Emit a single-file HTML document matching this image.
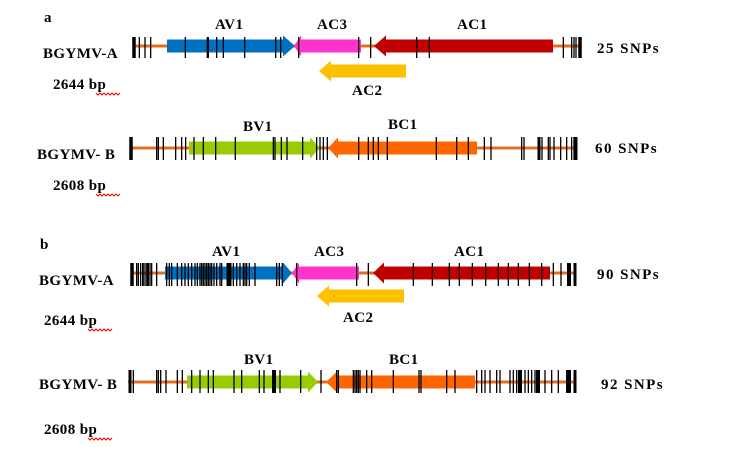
<!DOCTYPE html>
<html><head><meta charset="utf-8"><style>
body{margin:0;background:#fff;width:751px;height:446px;overflow:hidden}
text{font-family:"Liberation Serif",serif;font-weight:bold;font-size:15px;letter-spacing:0.4px;fill:#000}
</style></head><body>
<svg id="s" width="751" height="446" xmlns="http://www.w3.org/2000/svg">
<text x="44" y="22">a</text>
<text x="43" y="58">BGYMV-A</text>
<text x="53" y="89">2644 bp</text>
<text x="37" y="159">BGYMV- B</text>
<text x="53" y="190">2608 bp</text>
<text x="40" y="249">b</text>
<text x="39" y="285">BGYMV-A</text>
<text x="44" y="325">2644 bp</text>
<text x="39" y="389">BGYMV- B</text>
<text x="44" y="434">2608 bp</text>
<text x="597" y="53" textLength="62">25 SNPs</text>
<text x="595" y="153" textLength="62">60 SNPs</text>
<text x="597" y="279" textLength="62">90 SNPs</text>
<text x="601" y="389" textLength="62">92 SNPs</text>
<text x="215" y="29">AV1</text>
<text x="317" y="29">AC3</text>
<text x="457" y="29">AC1</text>
<text x="352" y="95">AC2</text>
<text x="243" y="131">BV1</text>
<text x="388" y="129">BC1</text>
<text x="212" y="256">AV1</text>
<text x="314" y="256">AC3</text>
<text x="454" y="256">AC1</text>
<text x="343" y="322">AC2</text>
<text x="244" y="364">BV1</text>
<text x="389" y="364">BC1</text>
<g id="g"></g>
</svg>
<script>
var g=document.getElementById('g'),h='';
function sq(x,y){var d='M'+x+' '+y;for(var i=0;i<6;i++){d+=' l2 2 l2 -2';}h+='<path d="'+d+'" stroke="#e00" stroke-width="1" fill="none"/>';}
function line(x1,x2,y){h+='<rect x="'+x1+'" y="'+(y-1.5)+'" width="'+(x2-x1)+'" height="3" fill="#e07020"/>';}
function fwd(x1,x2,tip,y,c){h+='<polygon points="'+x1+','+(y-6.5)+' '+x2+','+(y-6.5)+' '+x2+','+(y-10.5)+' '+tip+','+y+' '+x2+','+(y+10.5)+' '+x2+','+(y+6.5)+' '+x1+','+(y+6.5)+'" fill="'+c+'"/>';}
function rev(tip,x1,x2,y,c){h+='<polygon points="'+x2+','+(y-6.5)+' '+x1+','+(y-6.5)+' '+x1+','+(y-10.5)+' '+tip+','+y+' '+x1+','+(y+10.5)+' '+x1+','+(y+6.5)+' '+x2+','+(y+6.5)+'" fill="'+c+'"/>';}
function ticks(arr,y1,y2){arr.forEach(function(z){var w=1.3,x=z;if(typeof z=='object'){x=z[0];w=z[1];}else x=z/3+120;h+='<rect x="'+(x-w/2)+'" y="'+y1+'" width="'+w+'" height="'+(y2-y1)+'" fill="#000"/>';});}
line(133,580,46);
fwd(167,283,295,46,'#0070c0');rev(294,301,361,46,'#ff33cc');rev(374,386,553,46,'#c00000');rev(319,331,406,71,'#ffc000');
ticks([[134,3.5],58,75,92,196,262,265,290,310,374,467,482,536,716,752,890,928,1330,1355,1362,1368,[580,3.5]],37,58);
line(130,577,148);
fwd(189,310,320,148,'#99cc00');rev(328,338,477,148,'#ff6600');
ticks([[131,3.5],110,115,130,167,185,197,222,250,287,346,460,465,484,501,548,590,600,610,622,716,745,760,775,802,949,1010,1045,1093,1113,1205,1212,[539,3],1266,1285,1290,1302,1322,1340,1355,1362,[576,3]],137,160);
line(131,576,273);
fwd(165,283,292,273,'#0070c0');rev(292,299,359,273,'#ff33cc');rev(373,384,550,273,'#c00000');rev(317,329,404,296,'#ffc000');
ticks([[132,3.5],50,55,62,68,72,78,82,85,90,95,110,140,148,155,172,185,195,205,215,225,232,240,245,250,255,260,265,270,275,282,290,300,305,[229,5],340,350,360,370,375,380,388,405,470,478,487,530,710,745,880,937,988,1018,1057,1097,1135,1165,1195,1228,1265,1300,1323,[569,4],[575,3]],263,286);
line(128,576,382);
fwd(187,308,318,382,'#99cc00');rev(326,337,475,382,'#ff6600');
ticks([[130,3],40,110,115,122,138,172,187,215,240,265,280,342,365,418,432,[274,4],480,542,603,650,655,700,705,710,715,720,740,755,820,897,903,980,1005,1070,1085,1095,1110,1130,1140,1170,1180,1190,[520,4],1215,1225,1235,1245,1255,[538,4],1275,1295,1315,1340,[569,4],[575,3]],370,393);
sq(96,93);sq(96,194);sq(88,329);sq(88,438);
g.innerHTML=h;
</script>
</body></html>
